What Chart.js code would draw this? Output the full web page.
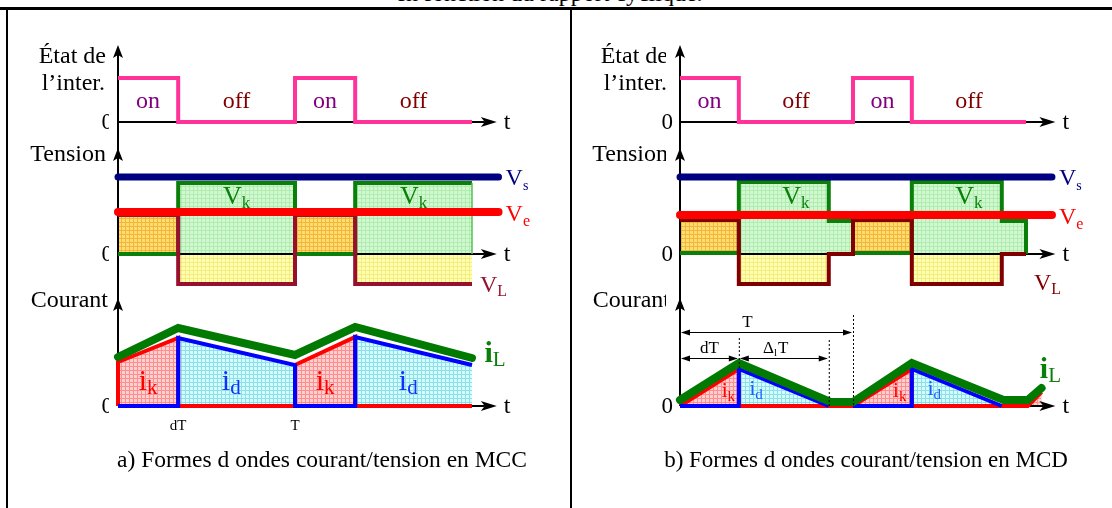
<!DOCTYPE html>
<html lang="fr">
<head>
<meta charset="utf-8">
<title>Formes d'ondes MCC / MCD</title>
<script src="https://cdn.jsdelivr.net/npm/chart.js@4.4.1/dist/chart.umd.min.js"></script>
<style>
  html, body { margin: 0; padding: 0; background: #fff; }
  body { position: relative; width: 1112px; height: 508px; overflow: hidden; font-family: "Liberation Serif", "Times New Roman", serif; }
  canvas { position: absolute; top: 10px; }
  #mcc { left: 9px; }
  #mcd { left: 573px; }
  .trait { position: absolute; background: #000; }
  #titre { position: absolute; left: 0; width: 1098px; top: -19px; text-align: center; font-size: 24px; line-height: 24px; }
</style>
</head>
<body>
<div id="titre">en fonction du rapport cyclique.</div>
<canvas id="mcc" width="560" height="498"></canvas>
<canvas id="mcd" width="539" height="498"></canvas>
<div class="trait" style="left:0;top:7px;width:1112px;height:3px"></div>
<div class="trait" style="left:6px;top:8px;width:2px;height:500px"></div>
<div class="trait" style="left:570px;top:8px;width:2px;height:500px"></div>
<script>
// ---- etat de l'interrupteur (commun aux deux figures), temps en periodes T ----
const tempsInter = [0, 0.34, 1, 1.34, 2];
const etatInter = [1, 0, 1, 0, 0];
const libellesInter = ['on', 'off', 'on', 'off'];
const tempsLignes = [0, 2.15];

// ---- a) MCC ----
const tempsTensionMCC = [0, 0.34, 1, 1.34, 2, 2];
const vkMCC = [0, 7.1, 0, 7.1, 7.1, 0];
const vlMCC = [3.9, -3.0, 3.9, -3.0, -3.0, -3.0];
const vsMCC = [7.7, 7.7];
const veMCC = [4.2, 4.2];
const tempsCourantMCC = [0, 0.34, 1, 1.34, 2];
const ilMCC = [4.9, 7.8, 5.1, 7.9, 4.8];
const ikdMCC = [4.4, 6.8, 4.1, 6.9, 4.1];
const phasesMCC = ['on', 'off', 'on', 'off'];

// ---- b) MCD ----
const tempsTensionMCD = [0, 0.34, 0.86, 1, 1.34, 1.86, 2];
const vkMCD = [0.1, 7.2, 3.3, 0.1, 7.2, 3.3, 0];
const vlMCD = [3.4, -3.0, 0, 3.4, -3.0, 0, 0];
const vsMCD = [7.7, 7.7];
const veMCD = [3.9, 3.9];
const tempsIlMCD = [0, 0.34, 0.87, 1, 1.34, 1.87, 2.01, 2.09];
const ilMCD = [0.6, 4.3, 0.4, 0.4, 4.3, 0.6, 0.6, 1.8];
const tempsIkdMCD = [0, 0.34, 0.86, 1, 1.34, 1.86, 2.01, 2.09];
const ikdMCD = [0, 3.7, 0, 0, 3.7, 0, 0, 1.4];
const phasesMCD = ['on', 'off', 'zero', 'on', 'off', 'zero', 'on'];

const POLICE = '"Liberation Serif", "Times New Roman", serif';

// mise en page de chaque figure (pixels de la page)
const panneaux = {
  mcc: {
    gauche: 9, haut: 10, largeur: 560, hauteur: 498,
    axeX: 118, periode: 177,
    zeroEtat: 122, pxEtat: 44, zeroTension: 254, zeroCourant: 406, pxUnite: 10,
    finAxeT: 2.14, sommetEtat: 1.75, sommetTension: 10.6, sommetCourant: 10.8,
    coupeLibelles: 0, coupeZero: 9, decalZero: 5,
    tVL: 2.045, vVL: -3.8, couleurVL: '#99102e',
    ik: { t: [0.17, 1.17], v: 1.6, taille: 30, tailleInd: 21 },
    id: { t: [0.64, 1.64], v: 1.6, taille: 30, tailleInd: 21, couleur: '#1030ff' },
    iL: { t: 2.07, v: 4.4 },
    legende: 'a) Formes d ondes courant/tension en MCC', legendeDx: 204, tailleLegende: 23.5
  },
  mcd: {
    gauche: 573, haut: 10, largeur: 539, hauteur: 498,
    axeX: 680, periode: 173,
    zeroEtat: 122, pxEtat: 44, zeroTension: 254, zeroCourant: 406, pxUnite: 10,
    finAxeT: 2.17, sommetEtat: 1.75, sommetTension: 10.6, sommetCourant: 10.8,
    coupeLibelles: 14, coupeZero: 0, decalZero: 7,
    tVL: 2.046, vVL: -3.6, couleurVL: '#800000',
    ik: { t: [0.28, 1.27], v: 0.9, taille: 21, tailleInd: 15 },
    id: { t: [0.44, 1.47], v: 1.1, taille: 21, tailleInd: 15, couleur: '#1a5cff' },
    iL: { t: 2.08, v: 2.8 },
    legende: 'b) Formes d ondes courant/tension en MCD', legendeDx: 186, tailleLegende: 23
  }
};

function motif(fond, trait) {
  const c = document.createElement('canvas');
  c.width = 4; c.height = 4;
  const g = c.getContext('2d');
  g.fillStyle = fond; g.fillRect(0, 0, 4, 4);
  g.fillStyle = trait; g.fillRect(0, 0, 4, 1); g.fillRect(0, 0, 1, 4);
  return g.createPattern(c, 'repeat');
}
const vertClair = motif('#d2f8d2', '#b0ecb0');
const orange = motif('#ffdc70', '#f2b63c');
const jaune = motif('#ffffb0', '#f4ec80');
const rose = motif('#ffd0d0', '#ff8f8f');
const cyan = motif('#d0ffff', '#94dce8');

function pts(t, v) { return t.map((ti, i) => ({ x: ti, y: v[i] })); }

// contour des zones ik / id : polygone pendant les phases gardees, trait au zero sinon
function contour(t, v, phases, garder, bas, sansFinBas) {
  const p = [];
  const n = phases.length;
  for (let k = 0; k < n; k++) {
    const dernier = k === n - 1;
    if (phases[k] === garder) {
      p.push({ x: t[k], y: 0 }, { x: t[k], y: v[k] }, { x: t[k + 1], y: v[k + 1] });
      if (!dernier) p.push({ x: t[k + 1], y: 0 });
    } else if (bas.includes(phases[k]) && !(dernier && sansFinBas)) {
      p.push({ x: t[k], y: 0 }, { x: t[k + 1], y: 0 });
    } else {
      p.push({ x: t[k], y: null });
    }
  }
  return p;
}

// le premier jeu de la liste est dessine en premier (dessous)
function ordonner(jeux) {
  return jeux.map((j, i) => Object.assign({ xAxisID: 'x', pointRadius: 0, order: jeux.length - i }, j));
}

function jeux(id) {
  const a = id === 'mcc';
  const tT = a ? tempsTensionMCC : tempsTensionMCD;
  const vk = a ? vkMCC : vkMCD;
  const vl = a ? vlMCC : vlMCD;
  const tI = a ? tempsCourantMCC : tempsIkdMCD;
  const ikd = a ? ikdMCC : ikdMCD;
  const phases = a ? phasesMCC : phasesMCD;
  const p = panneaux[id];
  return ordonner([
    { yAxisID: 'yv', data: pts(tT, vk), stepped: true, fill: 'origin', backgroundColor: vertClair, borderWidth: 0 },
    { yAxisID: 'yv', data: pts(tT, vl), stepped: true, fill: { target: 'origin', above: orange, below: jaune }, borderWidth: 0 },
    { yAxisID: 'yc', data: pts(tI, ikd), fill: 'origin', borderWidth: 0, backgroundColor: cyan,
      segment: { backgroundColor: c => (phases[c.p0DataIndex] === 'on' ? rose : cyan) }, axesApres: true },
    { yAxisID: 'ys', data: pts(tempsInter, etatInter), stepped: true, borderColor: '#ff3399', borderWidth: 4 },
    { yAxisID: 'yv', data: pts(tT, vk), stepped: true, borderColor: '#0a800a', borderWidth: 4,
      segment: a ? {
        borderWidth: c => (c.p0.x === c.p1.x ? 1.5 : undefined),
        borderColor: c => (c.p0.x === c.p1.x ? '#55c055' : undefined)
      } : {} },
    { yAxisID: 'yv', data: pts(tT, vl), stepped: true, borderColor: p.couleurVL, borderWidth: 4 },
    { yAxisID: 'yv', data: pts(tempsLignes, a ? vsMCC : vsMCD), borderColor: '#000080', borderWidth: 7, borderCapStyle: 'round' },
    { yAxisID: 'yv', data: pts(tempsLignes, a ? veMCC : veMCD), borderColor: '#ff0000', borderWidth: 8, borderCapStyle: 'round' },
    { yAxisID: 'yc', data: contour(tI, ikd, phases, 'on', ['off', 'zero'], false), borderColor: '#ff0000', borderWidth: 4 },
    { yAxisID: 'yc', data: contour(tI, ikd, phases, 'off', ['on'], true), borderColor: '#0000ff', borderWidth: 4 },
    { yAxisID: 'yc', data: pts(a ? tempsCourantMCC : tempsIlMCD, a ? ilMCC : ilMCD), borderColor: '#007a00', borderWidth: 8, borderCapStyle: 'round' }
  ]);
}

function texte(ctx, s, x, y, taille, couleur, align, style) {
  ctx.font = (style || '') + ' ' + taille + 'px ' + POLICE;
  ctx.fillStyle = couleur;
  ctx.textAlign = align || 'left';
  ctx.textBaseline = 'alphabetic';
  ctx.fillText(s, x, y);
}

function texteIndice(ctx, base, indice, x, y, taille, tailleInd, decal, couleur, align, style) {
  ctx.font = (style || '') + ' ' + taille + 'px ' + POLICE;
  const wb = ctx.measureText(base).width;
  ctx.font = tailleInd + 'px ' + POLICE;
  const wi = ctx.measureText(indice).width;
  let x1 = x;
  if (align === 'center') x1 = x - (wb + wi) / 2;
  if (align === 'right') x1 = x - wb - wi;
  texte(ctx, base, x1, y, taille, couleur, 'left', style);
  texte(ctx, indice, x1 + wb, y + decal, tailleInd, couleur, 'left');
}

function flecheHaut(ctx, x, y) {
  ctx.beginPath();
  ctx.moveTo(x, y); ctx.lineTo(x - 5, y + 13); ctx.lineTo(x, y + 10); ctx.lineTo(x + 5, y + 13);
  ctx.closePath(); ctx.fill();
}
function flecheDroite(ctx, x, y) {
  ctx.beginPath();
  ctx.moveTo(x, y); ctx.lineTo(x - 16, y - 5); ctx.lineTo(x - 12, y); ctx.lineTo(x - 16, y + 5);
  ctx.closePath(); ctx.fill();
}
function petiteFleche(ctx, x, y, sens) {
  ctx.beginPath();
  ctx.moveTo(x, y); ctx.lineTo(x - 9 * sens, y - 3); ctx.lineTo(x - 9 * sens, y + 3);
  ctx.closePath(); ctx.fill();
}

function dessinerAxes(chart, p) {
  const { ctx } = chart;
  const { x, ys, yv, yc } = chart.scales;
  const x0 = x.getPixelForValue(0);
  const xFin = x.getPixelForValue(p.finAxeT);
  ctx.save();
  ctx.strokeStyle = '#000';
  ctx.fillStyle = '#000';
  ctx.lineWidth = 2;
  ctx.beginPath();
  ctx.moveTo(x0, ys.getPixelForValue(p.sommetEtat) + 6);
  ctx.lineTo(x0, yc.getPixelForValue(0));
  ctx.stroke();
  [[ys, p.sommetEtat], [yv, p.sommetTension], [yc, p.sommetCourant]].forEach(([s, v]) => flecheHaut(ctx, x0, s.getPixelForValue(v)));
  [ys, yv, yc].forEach(s => {
    const y = s.getPixelForValue(0);
    ctx.beginPath(); ctx.moveTo(x0, y); ctx.lineTo(xFin - 12, y); ctx.stroke();
    flecheDroite(ctx, xFin, y);
    texte(ctx, 't', xFin + 7, y + 7, 24, '#000');
  });
  ctx.restore();
}

function dessinerTextes(chart, p, id) {
  const { ctx } = chart;
  const { x, ys, yv, yc } = chart.scales;
  const px = t => x.getPixelForValue(t);
  const x0 = px(0);
  const oy = p.haut;
  ctx.save();

  // libelles des axes
  ctx.save();
  if (p.coupeLibelles) { ctx.beginPath(); ctx.rect(0, 0, x0 - p.coupeLibelles, chart.height); ctx.clip(); }
  texte(ctx, 'État de', x0 - 12, 63 - oy, 24, '#000', 'right');
  texte(ctx, 'l\u2019inter.', x0 - 13, 90 - oy, 24, '#000', 'right');
  texte(ctx, 'Tension', x0 - 12, 161 - oy, 24, '#000', 'right');
  texte(ctx, 'Courant', x0 - 10, 307 - oy, 24, '#000', 'right');
  ctx.restore();
  ctx.save();
  if (p.coupeZero) { ctx.beginPath(); ctx.rect(0, 0, x0 - p.coupeZero, chart.height); ctx.clip(); }
  [ys, yv, yc].forEach(s => texte(ctx, '0', x0 - p.decalZero, s.getPixelForValue(0) + 7, 23, '#000', 'right'));
  ctx.restore();

  // on / off et Vk
  for (let k = 0; k < libellesInter.length; k++) {
    const xc = px((tempsInter[k] + tempsInter[k + 1]) / 2);
    const on = libellesInter[k] === 'on';
    texte(ctx, libellesInter[k], xc, ys.getPixelForValue(0.5) + 8, 24, on ? '#800080' : '#800000', 'center');
    if (!on) texteIndice(ctx, 'V', 'k', xc, yv.getPixelForValue(5.0), 26, 17, 4, '#0a800a', 'center');
  }

  // Vs, Ve, VL
  const xl = px(tempsLignes[1]) + 7;
  const vs = id === 'mcc' ? vsMCC : vsMCD;
  const ve = id === 'mcc' ? veMCC : veMCD;
  texteIndice(ctx, 'V', 's', xl, yv.getPixelForValue(vs[1]) + 8, 24, 14, 5, '#000080');
  texteIndice(ctx, 'V', 'e', xl, yv.getPixelForValue(ve[1]) + 9, 24, 16, 5, '#ff0000');
  texteIndice(ctx, 'V', 'L', px(p.tVL), yv.getPixelForValue(p.vVL), 24, 16, 4, p.couleurVL);

  // ik, id, iL
  p.ik.t.forEach(t => texteIndice(ctx, 'i', 'k', px(t), yc.getPixelForValue(p.ik.v), p.ik.taille, p.ik.tailleInd, 4, '#ff0000', 'center'));
  p.id.t.forEach(t => texteIndice(ctx, 'i', 'd', px(t), yc.getPixelForValue(p.id.v), p.id.taille, p.id.tailleInd, 4, p.id.couleur, 'center'));
  texteIndice(ctx, 'i', 'L', px(p.iL.t), yc.getPixelForValue(p.iL.v), 30, 21, 4, '#0a800a', 'left', 'bold');

  if (id === 'mcc') {
    texte(ctx, 'dT', px(tempsCourantMCC[1]), 430 - oy, 15, '#000', 'center');
    texte(ctx, 'T', px(tempsCourantMCC[2]), 430 - oy, 15, '#000', 'center');
  } else {
    // cotes T, dT et delta1 T
    const tD = tempsTensionMCD[1], tA = tempsTensionMCD[2], tP = tempsTensionMCD[3];
    ctx.strokeStyle = '#000'; ctx.fillStyle = '#000'; ctx.lineWidth = 1;
    ctx.setLineDash([2, 2]);
    [[tD, 6.8, ikdMCD[1]], [tA, 6.6, 0], [tP, 9.1, 0]].forEach(([t, v1, v2]) => {
      ctx.beginPath();
      ctx.moveTo(px(t) + 0.5, yc.getPixelForValue(v1));
      ctx.lineTo(px(t) + 0.5, yc.getPixelForValue(v2));
      ctx.stroke();
    });
    ctx.setLineDash([]);
    [[0, tP, 7.4], [0, tD, 4.8], [tD, tA, 4.8]].forEach(([t1, t2, v]) => {
      const y = Math.round(yc.getPixelForValue(v)) + 0.5;
      ctx.beginPath(); ctx.moveTo(px(t1) + 2, y); ctx.lineTo(px(t2) - 2, y); ctx.stroke();
      petiteFleche(ctx, px(t1) + 1, y, -1);
      petiteFleche(ctx, px(t2) - 1, y, 1);
    });
    texte(ctx, 'T', px(0.39), yc.getPixelForValue(7.9), 17, '#000', 'center');
    texte(ctx, 'dT', px(tD / 2), yc.getPixelForValue(5.3), 17, '#000', 'center');
    ctx.font = '17px ' + POLICE;
    const wD = ctx.measureText('\u0394').width, wT = ctx.measureText('T').width;
    ctx.font = '11px ' + POLICE;
    const w1 = ctx.measureText('l').width;
    const xg = px(0.55) - (wD + w1 + wT) / 2;
    const yb = yc.getPixelForValue(5.3);
    texte(ctx, '\u0394', xg, yb, 17, '#000');
    texte(ctx, 'l', xg + wD, yb + 3, 11, '#000');
    texte(ctx, 'T', xg + wD + w1 + 1, yb, 17, '#000');
  }

  texte(ctx, p.legende, x0 + p.legendeDx, 467 - oy, p.tailleLegende, '#000', 'center');
  ctx.restore();
}

const pluginSchema = {
  id: 'schema',
  afterDatasetDraw(chart, args) {
    if (chart.data.datasets[args.index].axesApres) dessinerAxes(chart, panneaux[chart.canvas.id]);
  },
  afterDatasetsDraw(chart) {
    dessinerTextes(chart, panneaux[chart.canvas.id], chart.canvas.id);
  }
};

function echelleY(p, zeroPage, pxParUnite) {
  return {
    type: 'linear', display: false,
    min: -(p.haut + p.hauteur - zeroPage) / pxParUnite,
    max: (zeroPage - p.haut) / pxParUnite
  };
}

['mcc', 'mcd'].forEach(id => {
  const p = panneaux[id];
  new Chart(document.getElementById(id), {
    type: 'line',
    data: { datasets: jeux(id) },
    options: {
      responsive: false,
      animation: false,
      devicePixelRatio: 1,
      events: [],
      layout: { padding: 0 },
      elements: { point: { radius: 0 }, line: { tension: 0 } },
      plugins: { legend: { display: false }, tooltip: { enabled: false } },
      scales: {
        x: { type: 'linear', display: false,
             min: -(p.axeX - p.gauche) / p.periode,
             max: (p.gauche + p.largeur - p.axeX) / p.periode },
        ys: echelleY(p, p.zeroEtat, p.pxEtat),
        yv: echelleY(p, p.zeroTension, p.pxUnite),
        yc: echelleY(p, p.zeroCourant, p.pxUnite)
      }
    },
    plugins: [pluginSchema]
  });
});
</script>
</body>
</html>
